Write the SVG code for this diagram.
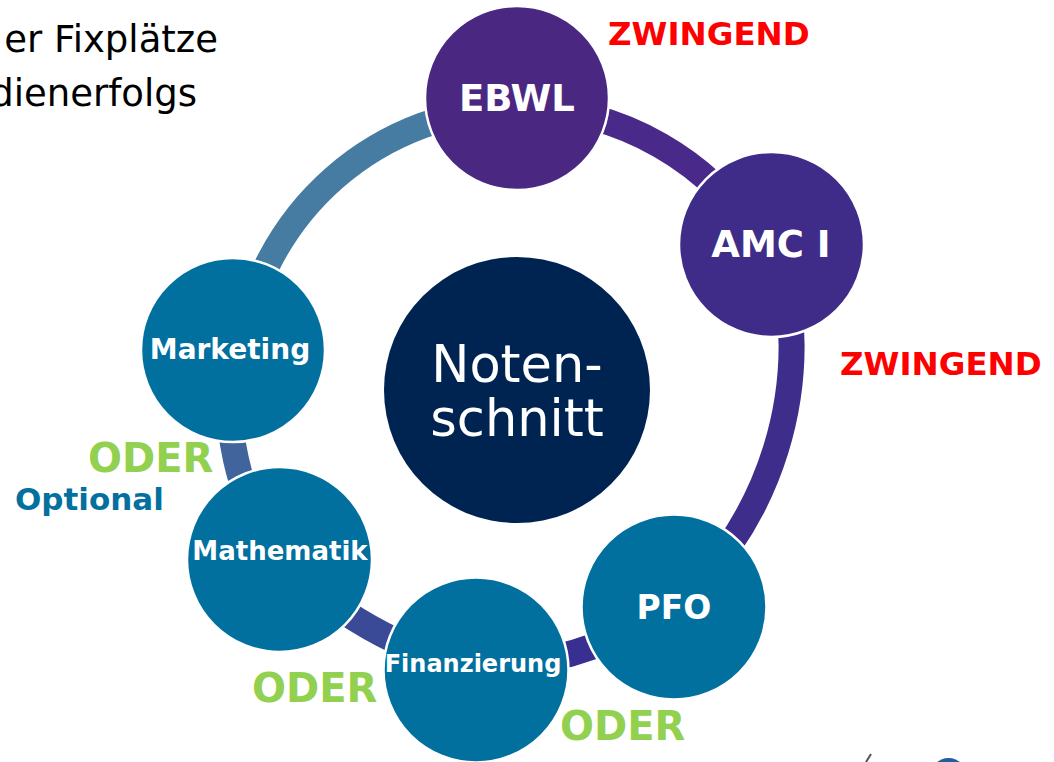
<svg xmlns="http://www.w3.org/2000/svg" width="1054" height="762" viewBox="0 0 1054 762">
<style>
.node{stroke:#ffffff;stroke-width:2.5}
.lbl{font-family:"DejaVu Sans",Verdana,sans-serif;font-weight:bold;fill:#ffffff;text-anchor:middle}
.ring{fill:none;stroke-width:26}
.tag{font-family:"DejaVu Sans",Verdana,sans-serif;font-weight:bold}
.red{fill:#ff0000;font-size:32.5px}
.green{fill:#92d050;font-size:40px}
</style>
<rect width="1054" height="762" fill="#ffffff"/>
<g id="intro" font-family="DejaVu Sans, Verdana, sans-serif" font-size="37" fill="#000000" text-anchor="end">
<text x="218" y="52">er Fixplätze</text>
<text x="197" y="106">dienerfolgs</text>
</g>
<g id="connectors">
<path class="ring" stroke="#467ca1" d="M240.9,350 A282,282 0 0,1 517,108"/>
<path class="ring" stroke="#49298a" d="M517,108 A282,282 0 0,1 765,250.4"/>
<path class="ring" stroke="#3e2d8a" d="M788.6,300 A352,352 0 0,1 702,580"/>
<path class="ring" stroke="#382f90" d="M674,607 A420,420 0 0,1 476,670"/>
<path class="ring" stroke="#3a4a96" d="M476,670 A433,433 0 0,1 279,559"/>
<path class="ring" stroke="#41649c" d="M279,559 A288,288 0 0,1 233,350"/>
</g>
<g id="center">
<circle cx="517" cy="390" r="133" fill="#002452"/>
<text x="517" y="382" font-family="DejaVu Sans, Verdana, sans-serif" font-size="51" fill="#ffffff" text-anchor="middle">Noten-</text>
<text x="517" y="436" font-family="DejaVu Sans, Verdana, sans-serif" font-size="51" fill="#ffffff" text-anchor="middle">schnitt</text>
</g>
<g id="ebwl">
<circle class="node" cx="517" cy="98" r="92" fill="#4a2882"/>
<text class="lbl" x="517" y="111" font-size="37">EBWL</text>
</g>
<g id="amc">
<circle class="node" cx="771.5" cy="244.5" r="92.5" fill="#3f2c88"/>
<text class="lbl" x="771" y="257" font-size="37">AMC I</text>
</g>
<g id="pfo">
<circle class="node" cx="674" cy="607" r="92.5" fill="#02709f"/>
<text class="lbl" x="674" y="619" font-size="33">PFO</text>
</g>
<g id="finanzierung">
<circle class="node" cx="476" cy="670" r="92.5" fill="#02709f"/>
<text class="lbl" x="473" y="672" font-size="24">Finanzierung</text>
</g>
<g id="mathematik">
<circle class="node" cx="279.5" cy="559.5" r="92.5" fill="#02709f"/>
<text class="lbl" x="280" y="560" font-size="26">Mathematik</text>
</g>
<g id="marketing">
<circle class="node" cx="233" cy="350" r="92" fill="#02709f"/>
<text class="lbl" x="230" y="359" font-size="28">Marketing</text>
</g>
<g id="labels">
<text class="tag red" x="608" y="45">ZWINGEND</text>
<text class="tag red" x="840" y="375">ZWINGEND</text>
<text class="tag green" x="88" y="472">ODER</text>
<text class="tag green" x="252" y="702">ODER</text>
<text class="tag green" x="560" y="740">ODER</text>
<text class="tag" x="15" y="510" font-size="31" fill="#04709f">Optional</text>
</g>
<g id="corner">
<path d="M871,754 L866,762" stroke="#555555" stroke-width="2" fill="none"/>
<circle cx="948.5" cy="776.5" r="18.5" fill="#1f5fa0"/>
</g>
</svg>
